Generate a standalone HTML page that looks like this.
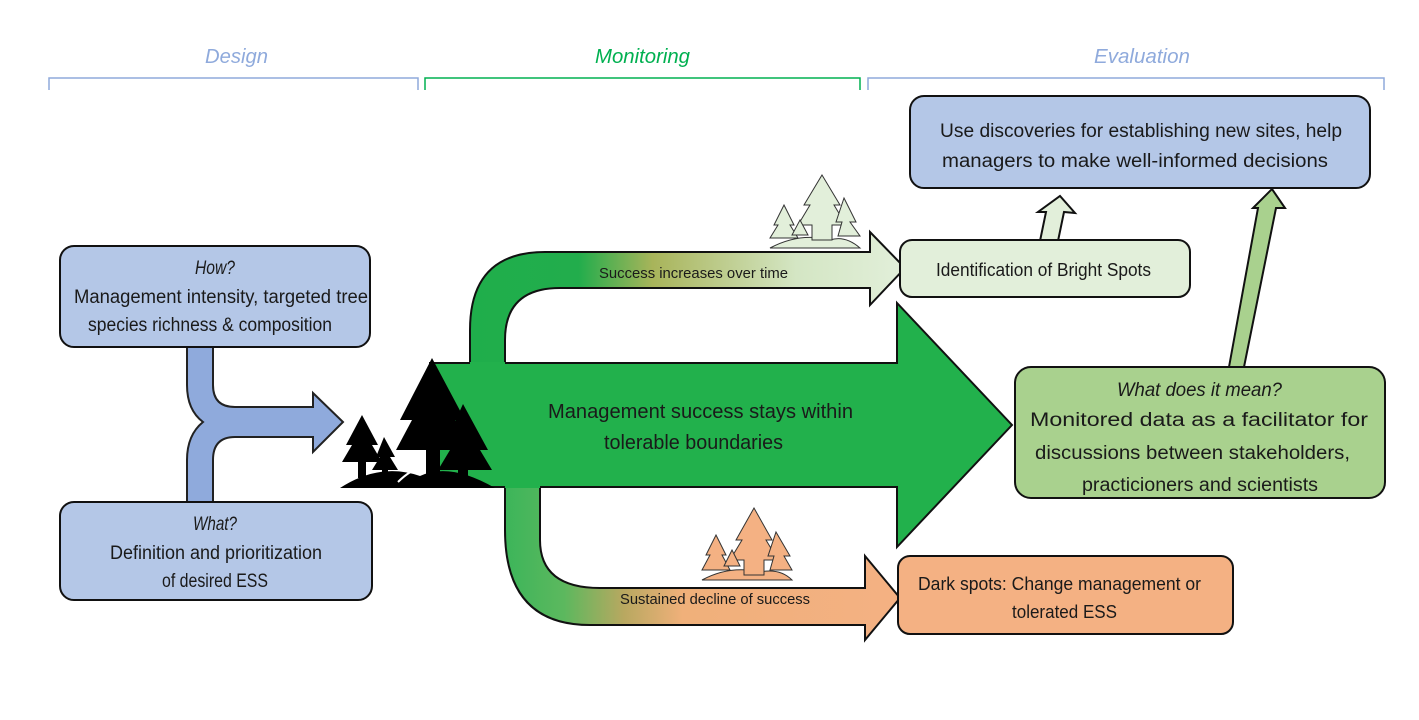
<!DOCTYPE html>
<html><head><meta charset="utf-8"><style>
html,body{margin:0;padding:0;background:#fff}
body{width:1419px;height:720px;overflow:hidden;position:relative;font-family:"Liberation Sans",sans-serif}
svg{position:absolute;left:0;top:0}
</style></head><body>
<svg width="1419" height="720" viewBox="0 0 1419 720" xmlns="http://www.w3.org/2000/svg" font-family="Liberation Sans, sans-serif">
<defs>
<linearGradient id="gu" x1="470" y1="0" x2="905" y2="0" gradientUnits="userSpaceOnUse">
<stop offset="0" stop-color="#1fae4b"/><stop offset="0.25" stop-color="#22ad4c"/><stop offset="0.42" stop-color="#a8b45a"/><stop offset="0.75" stop-color="#d4e6c4"/><stop offset="1" stop-color="#e2efda"/></linearGradient>
<linearGradient id="gd" x1="505" y1="0" x2="900" y2="0" gradientUnits="userSpaceOnUse">
<stop offset="0" stop-color="#3cb55a"/><stop offset="0.15" stop-color="#5cb85e"/><stop offset="0.3" stop-color="#b8a860"/><stop offset="0.45" stop-color="#f0b07a"/><stop offset="1" stop-color="#f4b183"/></linearGradient>
</defs>
<g fill="none" stroke-width="1.5">
<path d="M49 90 V78 H418 V90" stroke="#8faadc"/>
<path d="M425 90 V78 H860 V90" stroke="#00b050"/>
<path d="M868 90 V78 H1384 V90" stroke="#8faadc"/>
</g>
<g font-style="italic" font-size="20" lengthAdjust="spacingAndGlyphs">
<text x="205" y="63" fill="#8faadc" textLength="63" lengthAdjust="spacingAndGlyphs">Design</text>
<text x="595" y="63" fill="#00b050" textLength="95" lengthAdjust="spacingAndGlyphs">Monitoring</text>
<text x="1094" y="63" fill="#8faadc" textLength="96" lengthAdjust="spacingAndGlyphs">Evaluation</text>
</g>

<path d="M187 347 L213 347 L213 385 Q213 407 235 407 L313 407 L313 393 L343 422 L313 452 L313 437 L235 437 Q213 437 213 460 L213 502 L187 502 L187 460 Q187 435 203 422 Q187 410 187 385 Z" fill="#8faadc" stroke="#222" stroke-width="2"/>

<path d="M470 363 V330 Q470 252 545 252 H870 V232 L905 268 L870 305 V288 H560 Q505 288 505 340 V363 Z" fill="url(#gu)" stroke="#111" stroke-width="2"/>
<path d="M505 487 V530 Q505 625 590 625 H865 V640 L900 598 L865 556 V588 H600 Q540 588 540 540 V487 Z" fill="url(#gd)" stroke="#111" stroke-width="2"/>
<path d="M430 363 H897 V303 L1012 425 L897 547 V487 H430 Z" fill="#22b14c" stroke="#111" stroke-width="2"/>
<path d="M470 364 H505 M505 486 H540" stroke="#22b14c" stroke-width="4"/>

<g fill="#000">
<path d="M340 488 Q380 462 420 476 Q450 462 495 488 Z"/>
<path d="M432 358 L465 420 L455 420 L472 450 L440 450 L440 482 L426 482 L426 450 L396 450 L412 420 L400 420 Z"/>
<path d="M463 404 L488 450 L480 450 L492 470 L468 470 L468 485 L458 485 L458 470 L438 470 L450 450 L442 450 Z"/>
<path d="M362 415 L378 445 L372 445 L382 462 L366 462 L366 478 L358 478 L358 462 L342 462 L352 445 L346 445 Z"/>
<path d="M384 437 L395 457 L390 457 L398 470 L388 470 L388 478 L382 478 L382 470 L372 470 L380 457 L376 457 Z"/>
</g>
<path d="M398 482 Q410 470 425 465" stroke="#fff" stroke-width="2" fill="none"/>

<g fill="#e2efda" stroke="#333" stroke-width="1">
<path d="M770 248 Q800 232 830 240 Q845 235 860 248 Z"/>
<path d="M822 175 L840 205 L834 205 L846 225 L832 225 L832 240 L812 240 L812 225 L798 225 L810 205 L804 205 Z"/>
<path d="M844 198 L856 222 L850 222 L860 236 L838 236 L842 222 L836 222 Z"/>
<path d="M784 205 L794 225 L790 225 L798 238 L770 238 L778 225 L774 225 Z"/>
<path d="M800 220 L808 235 L792 235 Z"/>
</g>
<g fill="#f4b183" stroke="#333" stroke-width="1">
<path d="M702 580 Q730 565 760 572 Q780 568 792 580 Z"/>
<path d="M754 508 L772 540 L766 540 L778 560 L764 560 L764 575 L744 575 L744 560 L730 560 L742 540 L736 540 Z"/>
<path d="M776 532 L790 556 L784 556 L792 570 L770 570 L774 556 L768 556 Z"/>
<path d="M716 535 L726 555 L722 555 L730 570 L702 570 L710 555 L706 555 Z"/>
<path d="M732 550 L740 566 L724 566 Z"/>
</g>

<path d="M1040 241 L1046 212 L1038 212 L1060 196 L1075 213 L1064 212 L1058 241 Z" fill="#e2efda" stroke="#111" stroke-width="2"/>
<path d="M1229 367 L1258 208 L1253 208 L1272 189 L1285 208 L1276 208 L1244 367 Z" fill="#a9d18e" stroke="#111" stroke-width="2"/>

<g stroke="#111" stroke-width="2">
<rect x="60" y="246" width="310" height="101" rx="14" fill="#b4c7e7"/>
<rect x="60" y="502" width="312" height="98" rx="14" fill="#b4c7e7"/>
<rect x="910" y="96" width="460" height="92" rx="14" fill="#b4c7e7"/>
<rect x="900" y="240" width="290" height="57" rx="12" fill="#e2efda"/>
<rect x="1015" y="367" width="370" height="131" rx="16" fill="#a9d18e"/>
<rect x="898" y="556" width="335" height="78" rx="12" fill="#f4b183"/>
</g>

<g fill="#1a1a1a" font-size="19">
<text x="195" y="274" font-style="italic" textLength="40" lengthAdjust="spacingAndGlyphs">How?</text>
<text x="74" y="303" textLength="294" lengthAdjust="spacingAndGlyphs">Management intensity, targeted tree</text>
<text x="88" y="331" textLength="244" lengthAdjust="spacingAndGlyphs">species richness &amp; composition</text>
<text x="193" y="530" font-style="italic" textLength="44" lengthAdjust="spacingAndGlyphs">What?</text>
<text x="110" y="559" textLength="212" lengthAdjust="spacingAndGlyphs">Definition and prioritization</text>
<text x="162" y="587" textLength="106" lengthAdjust="spacingAndGlyphs">of desired ESS</text>
<text x="940" y="137" textLength="402" lengthAdjust="spacingAndGlyphs">Use discoveries for establishing new sites, help</text>
<text x="942" y="167" textLength="386" lengthAdjust="spacingAndGlyphs">managers to make well-informed decisions</text>
<text x="936" y="276" font-size="18" textLength="215" lengthAdjust="spacingAndGlyphs">Identification of Bright Spots</text>
<text x="1117" y="396" font-style="italic" textLength="165" lengthAdjust="spacingAndGlyphs">What does it mean?</text>
<text x="1030" y="426" textLength="338" lengthAdjust="spacingAndGlyphs">Monitored data as a facilitator for</text>
<text x="1035" y="459" textLength="315" lengthAdjust="spacingAndGlyphs">discussions between stakeholders,</text>
<text x="1082" y="491" textLength="236" lengthAdjust="spacingAndGlyphs">practicioners and scientists</text>
<text x="918" y="590" font-size="18" textLength="283" lengthAdjust="spacingAndGlyphs">Dark spots: Change management or</text>
<text x="1012" y="618" font-size="18" textLength="105" lengthAdjust="spacingAndGlyphs">tolerated ESS</text>
<text x="548" y="418" font-size="20" textLength="305" lengthAdjust="spacingAndGlyphs">Management success stays within</text>
<text x="604" y="449" font-size="20" textLength="179" lengthAdjust="spacingAndGlyphs">tolerable boundaries</text>
<text x="599" y="278" font-size="15" textLength="189" lengthAdjust="spacingAndGlyphs">Success increases over time</text>
<text x="620" y="604" font-size="15" textLength="190" lengthAdjust="spacingAndGlyphs">Sustained decline of success</text>
</g>
</svg>
</body></html>
